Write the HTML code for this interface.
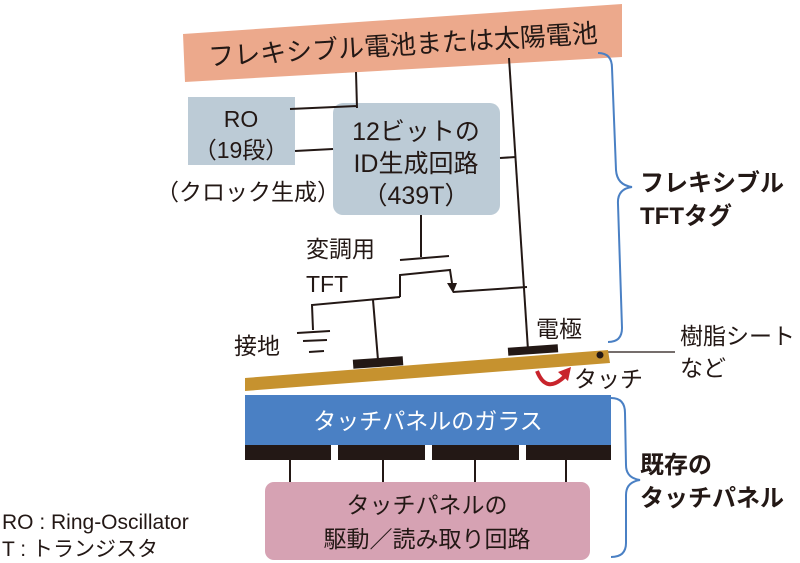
<!DOCTYPE html>
<html><head><meta charset="utf-8"><style>
body{margin:0;background:#fff}
svg{display:block}
text{font-family:"Liberation Sans","Noto Sans CJK JP",sans-serif;fill:#231815}
</style></head><body>
<svg width="800" height="563" viewBox="0 0 800 563" xmlns="http://www.w3.org/2000/svg">
<polygon points="183,34 622,4 622,57 185,82" fill="#eca98c"/>
<text x="403" y="54" font-size="26" text-anchor="middle" transform="rotate(-3.5 403 45)">フレキシブル電池または太陽電池</text>
<rect x="188" y="97" width="107" height="68" fill="#bccbd6"/>
<text x="241" y="127" font-size="23" text-anchor="middle">RO</text>
<text x="241" y="158" font-size="23" text-anchor="middle">（19段）</text>
<text x="156" y="200" font-size="23">（クロック生成）</text>
<rect x="333" y="103" width="167" height="112" rx="10" fill="#bccbd6"/>
<text x="416" y="140" font-size="25" text-anchor="middle">12ビットの</text>
<text x="416" y="172" font-size="25" text-anchor="middle">ID生成回路</text>
<text x="416" y="204" font-size="25" text-anchor="middle">（439T）</text>
<g stroke="#231815" stroke-width="2" fill="none">
<path d="M356,72 L357,108 M290,109 L357,106"/>
<path d="M295,151 L333,149"/>
<path d="M500,158 L516,157"/>
<path d="M509,58 L528,350"/>
<path d="M421,215 L421,257 M400,260 L449,256"/>
<path d="M400,297 L400,275 L450,270 L452,283"/>
<path d="M453,292 L527,287"/>
<path d="M400,297 L312,305 L313,330"/>
<path d="M373,300 L378,360"/>
<path d="M297,333 L330,331 M303,341 L327,340 M309,352 L324,351"/>
<path d="M608,352 L675,352" stroke-width="1.3"/>
</g>
<polygon points="447,283 457,283 453,293" fill="#231815"/>
<text x="306" y="257" font-size="23">変調用</text>
<text x="306" y="292" font-size="23">TFT</text>
<text x="234" y="354" font-size="23">接地</text>
<text x="536" y="337" font-size="23">電極</text>
<polygon points="245,378 608,350 610,363 245,391" fill="#c6922f"/>
<rect x="353" y="358" width="50" height="9" fill="#231815" transform="rotate(-4 378 362)"/>
<rect x="508" y="346" width="50" height="8" fill="#231815" transform="rotate(-4 533 350)"/>
<circle cx="600" cy="355" r="3.5" fill="#231815"/>
<path d="M537,371 Q546,394 564,377" stroke="#c8242c" stroke-width="4" fill="none"/>
<polygon points="558,372 571,367 568,381" fill="#c8242c"/>
<text x="574" y="387" font-size="23">タッチ</text>
<text x="680" y="344" font-size="23">樹脂シート</text>
<text x="680" y="376" font-size="23">など</text>
<rect x="245" y="395" width="366" height="50" fill="#4a80c4"/>
<text x="428" y="429" font-size="23" text-anchor="middle" style="fill:#fff">タッチパネルのガラス</text>
<g fill="#231815">
<rect x="245" y="445" width="86" height="15"/><rect x="338" y="445" width="87" height="15"/>
<rect x="432" y="445" width="87" height="15"/><rect x="526" y="445" width="85" height="15"/>
</g>
<g stroke="#231815" stroke-width="2"><path d="M290,460V482M383,460V482M475,460V482M566,460V482"/></g>
<rect x="265" y="482" width="325" height="78" rx="9" fill="#d6a2b3"/>
<text x="427" y="513" font-size="23" text-anchor="middle">タッチパネルの</text>
<text x="427" y="547" font-size="23" text-anchor="middle">駆動／読み取り回路</text>
<g stroke="#4a80c4" stroke-width="2" fill="none">
<path d="M598,53 Q612,53 612,68 L616,170 Q617,185 632,187 Q617,189 618,204 L622,328 Q622,342 608,342"/>
<path d="M611,398 Q625,398 625,413 L626,465 Q626,478 640,480 Q626,482 626,495 L626,543 Q626,557 611,557"/>
</g>
<text x="640" y="191" font-size="24" font-weight="bold">フレキシブル</text>
<text x="640" y="224" font-size="24" font-weight="bold">TFTタグ</text>
<text x="640" y="473" font-size="24" font-weight="bold">既存の</text>
<text x="640" y="506" font-size="24" font-weight="bold">タッチパネル</text>
<text x="2" y="529" font-size="21">RO : Ring-Oscillator</text>
<text x="2" y="556" font-size="21">T : トランジスタ</text>
</svg>
</body></html>
